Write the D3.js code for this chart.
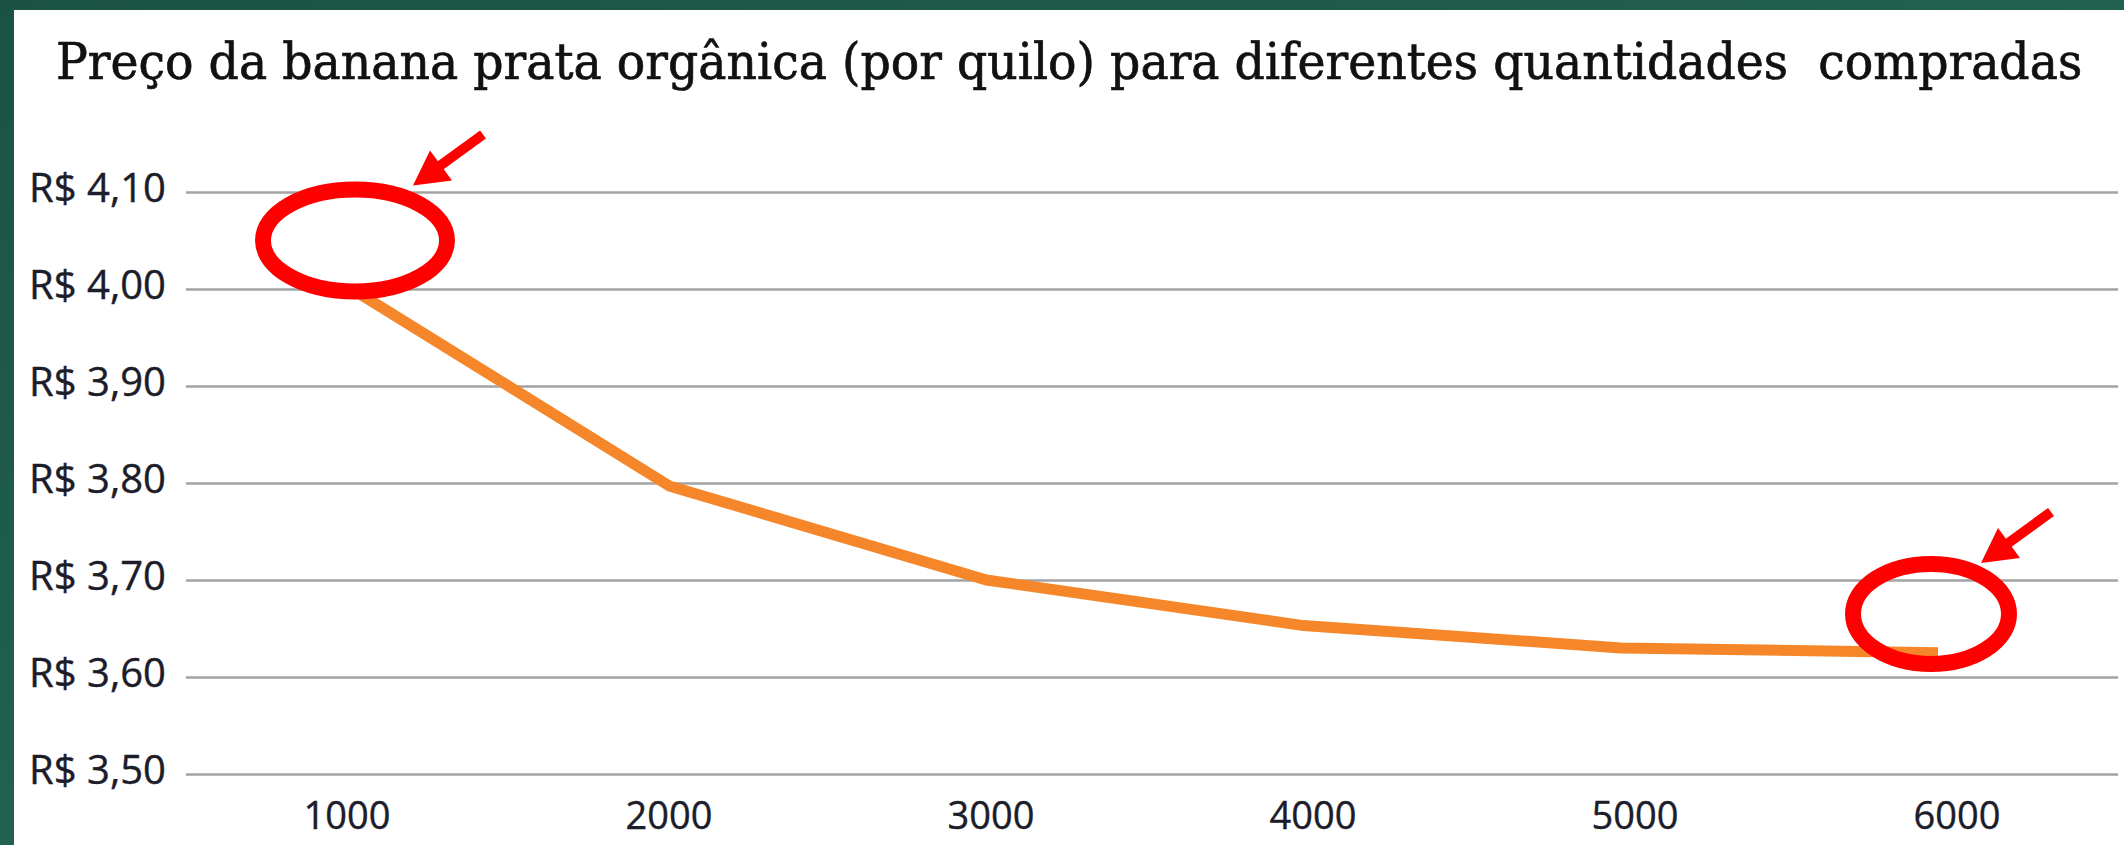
<!DOCTYPE html>
<html>
<head>
<meta charset="utf-8">
<script src="https://cdn.jsdelivr.net/npm/d3@7"></script>
<style>
  html, body { margin: 0; padding: 0; background: #1c5546; }
  svg { display: block; }
</style>
</head>
<body>
<script>
var title = "Preço da banana prata orgânica (por quilo) para diferentes quantidades  compradas";
var quantities = ["1000", "2000", "3000", "4000", "5000", "6000"];
var prices = [4.00, 3.797, 3.70, 3.653, 3.63, 3.625];
var yTicks = [3.5, 3.6, 3.7, 3.8, 3.9, 4.0, 4.1];
var yTickLabels = ["R$ 3,50", "R$ 3,60", "R$ 3,70", "R$ 3,80", "R$ 3,90", "R$ 4,00", "R$ 4,10"];
// highlighted spots (category, price at centre of the ring)
var marks = [
  { cat: "1000", val: 4.05, dx: 8, rx: 92, ry: 51 },
  { cat: "6000", val: 3.665, dx: -26, rx: 78, ry: 50 }
];

var W = 2124, H = 845;

var svg = d3.select("body")
  .append("svg")
  .attr("width", W)
  .attr("height", H);

// green frame (top and left edges only) and white card
var bg = svg.append("defs").append("linearGradient")
  .attr("id", "frame")
  .attr("x1", 0).attr("y1", 0).attr("x2", 1).attr("y2", 1);
bg.append("stop").attr("offset", "0%").attr("stop-color", "#1a5344");
bg.append("stop").attr("offset", "50%").attr("stop-color", "#22604f");
bg.append("stop").attr("offset", "100%").attr("stop-color", "#1a5242");

svg.append("rect")
  .attr("width", W).attr("height", H)
  .attr("fill", "url(#frame)");
svg.append("rect")
  .attr("x", 14).attr("y", 10)
  .attr("width", W - 14).attr("height", H - 10)
  .attr("fill", "white");

var x = d3.scaleBand()
  .domain(quantities)
  .range([186, 2118]);

// the line's points sit a little inside the label centres
var xLine = d3.scalePoint()
  .domain(quantities)
  .range([352, 1938]);

var y = d3.scaleLinear()
  .domain([3.5, 4.1])
  .range([774, 192]);

function cx(d) {
  return x(d) + x.bandwidth() / 2;
}

// title, squeezed horizontally to the reference width
var tg = svg.append("g");
var t = tg.append("text")
  .attr("x", 0)
  .attr("y", 0)
  .attr("font-family", "DejaVu Serif")
  .attr("font-size", "50px")
  .attr("fill", "#111")
  .attr("stroke", "#111")
  .attr("stroke-width", 0.7)
  .style("white-space", "pre")
  .text(title);
var tw = t.node().getComputedTextLength();
tg.attr("transform", "translate(56,79) scale(" + (2027 / tw) + ",1)");

// gridlines
svg.append("g")
  .attr("transform", "translate(186,0)")
  .call(d3.axisLeft(y)
    .tickValues(yTicks)
    .tickSize(-(2118 - 186))
    .tickFormat(""))
  .call(function(g) {
    g.select(".domain").remove();
    g.selectAll(".tick line")
      .attr("stroke", "#a3a3a3")
      .attr("stroke-width", 2.5);
  });

// y labels
svg.selectAll("text.ylab")
  .data(yTicks)
  .enter()
  .append("text")
  .attr("class", "ylab")
  .text(function(d, i) {
    return yTickLabels[i];
  })
  .attr("x", 166)
  .attr("y", function(d) {
    return y(d) + 10;
  })
  .attr("text-anchor", "end")
  .attr("font-family", "Open Sans")
  .attr("font-size", "40px")
  .attr("fill", "#1c1c2a")
  .attr("stroke", "#1c1c2a")
  .attr("stroke-width", 0.4);

// x labels
svg.selectAll("text.xlab")
  .data(quantities)
  .enter()
  .append("text")
  .attr("class", "xlab")
  .text(function(d) {
    return d;
  })
  .attr("x", function(d) {
    return cx(d);
  })
  .attr("y", 829)
  .attr("text-anchor", "middle")
  .attr("font-family", "Open Sans")
  .attr("font-size", "38px")
  .attr("fill", "#1c1c2a")
  .attr("stroke", "#1c1c2a")
  .attr("stroke-width", 0.4);

// price line
var line = d3.line()
  .x(function(d, i) {
    return xLine(quantities[i]);
  })
  .y(function(d) {
    return y(d);
  });

svg.append("path")
  .datum(prices)
  .attr("d", line)
  .attr("fill", "none")
  .attr("stroke", "#f5872a")
  .attr("stroke-width", 11)
  .attr("stroke-linejoin", "round");

// red rings and arrows
var ann = svg.selectAll("g.mark")
  .data(marks)
  .enter()
  .append("g")
  .attr("class", "mark")
  .attr("transform", function(d) {
    return "translate(" + (cx(d.cat) + d.dx) + "," + y(d.val) + ")";
  });

ann.append("ellipse")
  .attr("rx", function(d) { return d.rx; })
  .attr("ry", function(d) { return d.ry; })
  .attr("fill", "none")
  .attr("stroke", "#ff0000")
  .attr("stroke-width", 16);

ann.append("g")
  .attr("transform", function(d) {
    return d.cat === "1000" ? "translate(58,-55)" : "translate(50,-51)";
  })
  .call(function(g) {
    g.append("line")
      .attr("x1", 26).attr("y1", -19)
      .attr("x2", 70).attr("y2", -51)
      .attr("stroke", "#ff0000")
      .attr("stroke-width", 10);
    g.append("polygon")
      .attr("points", "0,0 17,-35 39,-5")
      .attr("fill", "#ff0000");
  });
</script>
</body>
</html>
